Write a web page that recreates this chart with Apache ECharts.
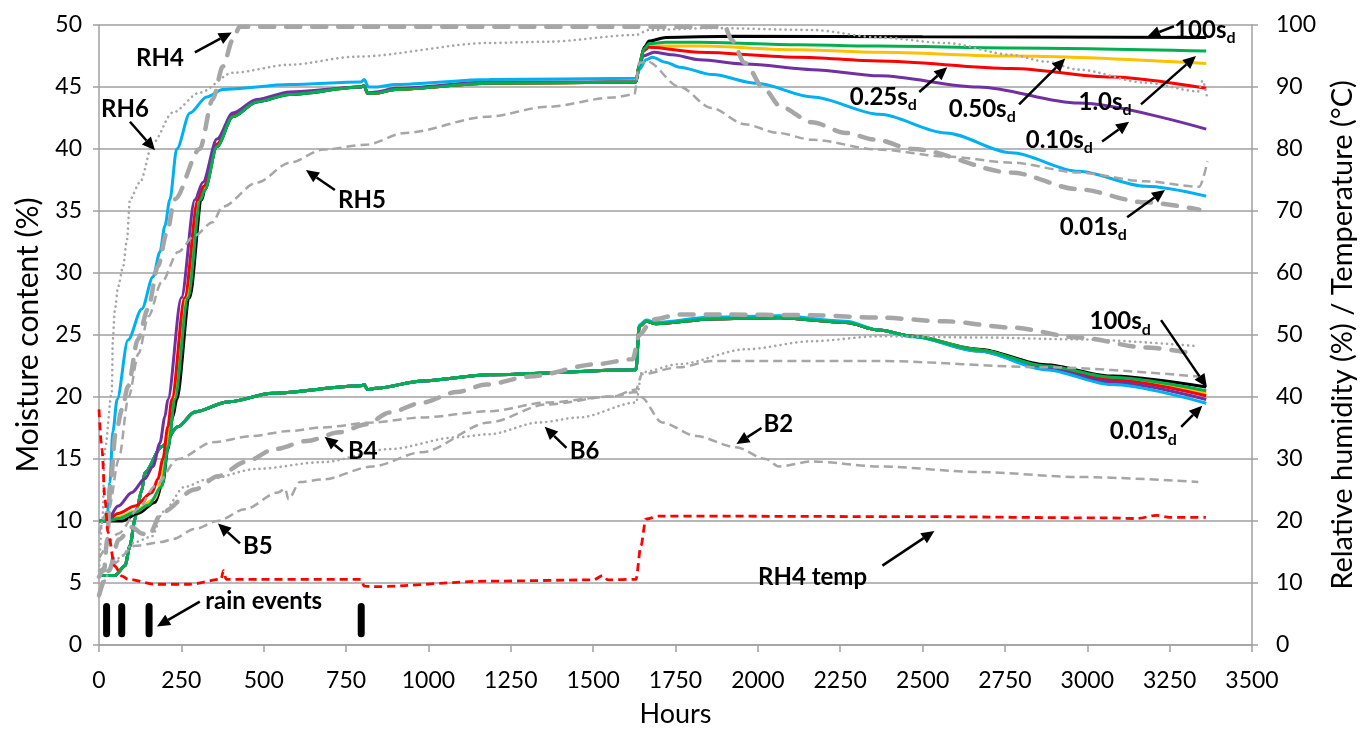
<!DOCTYPE html>
<html>
<head>
<meta charset="utf-8">
<script src="https://cdn.jsdelivr.net/npm/echarts@6/dist/echarts.min.js"></script>
<style>
html,body{margin:0;padding:0;background:#fff;}
#c{width:1365px;height:733px;}
</style>
</head>
<body>
<div id="c"></div>
<script>
// ---------- DATA (hours, value) ----------
// Upper group: simulated moisture content (%) – left axis
const upperBlack = [[0,10],[24,10],[70,10],[118,10.6],[170,11.5],[194,13.1],[209,15.8],[224,18.4],[236,19.8],[275,28],[312,35.9],[321,36.7],[358,40.2],[406,42.6],[479,43.8],[579,44.4],[795,45.0],[805,45.1],[815,44.5],[840,44.5],[900,44.8],[1185,45.3],[1630,45.4],[1640,46.8],[1655,48.2],[1670,48.7],[1721,49.0],[1921,49.1],[2500,49.05],[3361,49.0]];
const upperGreen = [[0,10],[24,10],[60,10.2],[110,10.7],[150,11.3],[191,12.8],[210,16],[230,19.8],[270,28],[308,35.9],[321,36.7],[358,40.2],[406,42.6],[479,43.8],[579,44.4],[795,45.0],[805,45.1],[815,44.5],[840,44.5],[900,44.8],[1185,45.3],[1630,45.4],[1640,46.8],[1655,48.1],[1670,48.5],[1721,48.6],[1821,48.6],[2124,48.4],[2367,48.3],[2770,48.15],[3361,47.9]];
const upperOrange = [[0,10],[24,10],[60,10.3],[109,10.8],[170,11.8],[191,13.4],[206,15.8],[221,18.4],[227,19.8],[265,28],[305,35.9],[321,36.9],[358,40.3],[406,42.7],[479,43.9],[579,44.5],[795,45.0],[805,45.1],[815,44.5],[840,44.5],[900,44.8],[1185,45.3],[1630,45.4],[1640,46.8],[1655,48.0],[1670,48.3],[1821,48.3],[2124,48.0],[2367,47.8],[2770,47.5],[3361,46.9]];
const upperRed = [[0,10],[24,10],[58,10.6],[109,11.2],[161,12.3],[179,13.4],[194,15.0],[209,17.6],[221,19.8],[260,28],[300,35.9],[318,37],[358,40.4],[406,42.7],[479,43.9],[579,44.5],[795,45.0],[805,45.1],[815,44.5],[840,44.5],[900,44.8],[1185,45.3],[1630,45.4],[1640,46.8],[1652,47.9],[1670,48.2],[1821,47.8],[2124,47.4],[2367,47.1],[2770,46.5],[3073,45.8],[3361,44.9]];
const upperPurple = [[0,10],[24,10],[58,11.2],[100,12.3],[139,13.4],[164,14.4],[185,16.3],[200,18.4],[209,19.8],[250,28],[291,35.9],[315,37.3],[358,40.8],[406,42.9],[479,44.0],[579,44.6],[795,45.0],[805,45.1],[815,44.5],[840,44.6],[900,44.9],[1185,45.4],[1630,45.4],[1640,46.6],[1652,47.5],[1685,47.8],[1740,47.6],[1823,47.2],[1965,46.85],[2166,46.4],[2369,45.9],[2670,45.0],[2973,43.7],[3361,41.6]];
const upperBlue = [[0,10],[24,10],[33,13.1],[42,17.2],[55,19.8],[88,24.6],[130,27.1],[164,29.7],[185,31.7],[200,33.8],[215,35.9],[236,40.0],[276,42.9],[327,44.2],[376,44.8],[579,45.2],[795,45.4],[805,45.6],[818,45.0],[840,45.0],[900,45.2],[1185,45.6],[1630,45.7],[1640,46.4],[1661,47.2],[1680,47.4],[1720,47.0],[1762,46.6],[1862,46.0],[1996,45.3],[2166,44.2],[2369,42.8],[2570,41.3],[2770,39.7],[2973,38.2],[3176,37.0],[3361,36.2]];

// Lower group: common early part, then one tail per case
const lowerEarly = [[0,5.6],[48,5.6],[79,6.4],[94,8.0],[109,10.1],[115,11],[130,12.5],[139,13.9],[191,16.0],[239,17.6],[291,18.8],[391,19.6],[527,20.3],[795,20.9],[805,21.0],[815,20.6],[840,20.7],[983,21.3],[1185,21.8],[1630,22.2]];
const lowerGreenTail  = [[1640,25.7],[1661,26.1],[1691,25.9],[1861,26.3],[2064,26.4],[2267,26.0],[2367,25.4],[2470,24.9],[2670,23.8],[2873,22.5],[3073,21.6],[3361,20.5]];
const lowerBlueTail   = [[1640,25.8],[1661,26.2],[1691,26.0],[1861,26.45],[2064,26.55],[2267,26.1],[2367,25.4],[2470,24.85],[2670,23.7],[2873,22.2],[3073,21.0],[3361,19.5]];
const lowerBlackTail  = [[1640,25.7],[1661,26.1],[1691,25.9],[1861,26.3],[2064,26.4],[2267,26.0],[2367,25.4],[2470,24.9],[2670,23.85],[2873,22.6],[3073,21.7],[3361,20.8]];
const lowerOrangeTail = [[1640,25.7],[1661,26.1],[1691,25.9],[1861,26.3],[2064,26.4],[2267,26.0],[2367,25.4],[2470,24.9],[2670,23.8],[2873,22.45],[3073,21.5],[3361,20.3]];
const lowerRedTail    = [[1640,25.7],[1661,26.1],[1691,25.9],[1861,26.3],[2064,26.4],[2267,26.0],[2367,25.4],[2470,24.9],[2670,23.75],[2873,22.4],[3073,21.4],[3361,20.1]];
const lowerPurpleTail = [[1640,25.7],[1661,26.1],[1691,25.9],[1861,26.3],[2064,26.4],[2267,26.0],[2367,25.4],[2470,24.9],[2670,23.7],[2873,22.3],[3073,21.2],[3361,19.8]];

// Measured relative humidity (%) / temperature (°C) – right axis
const RH4 = [[0,11],[15,12],[25,17],[35,26],[50,34],[70,38],[88,41.7],[118,49.3],[148,54.1],[179,61.1],[206,66.5],[230,71.9],[306,80],[345,88],[376,93.3],[406,97.6],[427,99.7],[1900,99.7],[1920,97.6],[1960,93.9],[2020,89.6],[2070,86.8],[2164,84.3],[2267,82.6],[2358,81.5],[2470,80],[2770,76.2],[2973,73.5],[3176,71.4],[3340,70.2]];
const RH6 = [[0,12],[10,20],[18,31.6],[39,40.8],[42,49.3],[48,54],[58,57.8],[73,61],[85,65.4],[94,71.9],[124,74.6],[164,81],[224,85.9],[306,89.1],[406,92.3],[579,93.6],[782,94.9],[1185,97.1],[1358,97.3],[1630,98.4],[1670,99.2],[1861,99.5],[2164,99.2],[2367,98],[2570,97.1],[2770,95.2],[2873,94.1],[2973,92.8],[3176,90.7],[3337,89.3],[3350,91],[3365,88]];
const RH5 = [[0,18],[30,22],[60,30],[90,40],[120,47],[150,53],[190,58.5],[240,63.4],[290,66],[345,68.2],[375,70.7],[480,74.6],[580,77.8],[680,79.9],[810,80.7],[930,82.6],[1180,85.2],[1360,86.8],[1560,88.3],[1625,88.8],[1640,93.9],[1665,94.1],[1760,90.1],[1860,86.6],[1960,84.0],[2060,82.6],[2164,81.5],[2367,79.9],[2570,78.8],[2770,77.8],[2973,76.2],[3176,74.8],[3340,73.9],[3365,78]];
const B4 = [[0,8],[30,12],[60,17],[100,19],[130,18],[150,17.6],[191,21.4],[291,25.1],[361,27.2],[443,29.5],[534,31.6],[631,32.9],[730,34.3],[812,35.6],[882,37.5],[982,39.1],[1085,40.8],[1176,42],[1307,43.3],[1510,45.3],[1620,46.1],[1640,50],[1680,52.5],[1762,53.3],[1883,53.3],[2164,53.2],[2367,52.8],[2570,52.2],[2770,51.2],[2973,49.6],[3176,48],[3300,47.2]];
const B5 = [[0,12],[40,13],[110,16],[190,16.6],[225,17.1],[290,18.7],[360,20],[443,21.9],[543,24.6],[565,25.2],[575,23.5],[610,26.3],[680,26.7],[830,28.8],[980,31.1],[1185,35.9],[1358,38.8],[1560,40.1],[1630,41.2],[1648,43.7],[1761,44.8],[1861,45.8],[2367,45.8],[2873,44.8],[3337,43.3]];
const B2 = [[0,14],[60,18],[120,22],[170,25.6],[240,30],[345,32.7],[465,33.7],[575,34.5],[680,35.1],[830,35.9],[980,36.7],[1185,37.7],[1358,39.1],[1558,40.1],[1630,40.8],[1645,40],[1709,35.9],[1812,33.7],[1933,31.9],[2024,30],[2064,28.8],[2164,29.6],[2367,28.8],[2670,27.9],[2973,27.1],[3337,26.3]];
const B6 = [[0,8],[60,14],[110,16.6],[160,17.5],[195,21.5],[260,25.5],[327,26.7],[479,28.4],[679,29.5],[882,31.6],[1085,33.5],[1185,34],[1336,35.9],[1458,36.7],[1630,39.1],[1648,44],[1761,45.3],[1964,47.7],[2164,49],[2367,49.8],[2670,49.6],[2973,49.3],[3337,48.2]];
const RH4temp = [[0,38],[9,31.6],[18,23.5],[27,18.2],[48,12.7],[70,11.1],[88,10.6],[170,9.8],[275,9.8],[370,10.6],[378,12],[386,10.6],[780,10.6],[795,10.6],[805,9.5],[830,9.4],[1185,10.3],[1500,10.5],[1530,11.2],[1545,10.5],[1630,10.6],[1645,16],[1660,20.3],[1700,20.8],[2500,20.7],[3050,20.5],[3150,20.4],[3210,20.9],[3250,20.6],[3360,20.6]];

// Rain events (hours) drawn as short bars on the left axis
const rainHours = [23, 69, 152, 796];
const rainRange = [0.9, 3.1];

// Tick settings
const xTicks = {min:0, max:3500, interval:250};
const yLeft  = {min:0, max:50, interval:5};
const yRight = {min:0, max:100, interval:10};

// Annotations (data coordinates on left axis): text, subscript, text centre, arrow tail, arrow tip
const annotations = [
  {t:'RH4', s:'', at:[185,47.3], from:[291,47.8], to:[403,49.4]},
  {t:'RH6', s:'', at:[79,43.2], from:[94,42.2], to:[170,39.9]},
  {t:'RH5', s:'', at:[798,35.9], from:[716,36.7], to:[628,38.3]},
  {t:'0.25s', s:'d', at:[2381,44.2], from:[2490,44.6], to:[2575,46.6]},
  {t:'0.50s', s:'d', at:[2681,43.2], from:[2793,43.6], to:[2933,47.3]},
  {t:'1.0s', s:'d', at:[3054,43.8], from:[3163,43.6], to:[3330,47.5]},
  {t:'0.10s', s:'d', at:[2915,40.7], from:[3045,40.6], to:[3127,42.2]},
  {t:'0.01s', s:'d', at:[3018,33.7], from:[3121,34.5], to:[3236,36.7]},
  {t:'100s', s:'d', at:[3357,49.6], from:[3263,49.9], to:[3182,49.05]},
  {t:'100s', s:'d', at:[3100,26.1], from:[3224,26.2], to:[3363,20.8]},
  {t:'0.01s', s:'d', at:[3170,17.2], from:[3285,17.6], to:[3349,19.3]},
  {t:'B4', s:'', at:[801,15.6], from:[740,15.6], to:[685,16.8]},
  {t:'B6', s:'', at:[1474,15.6], from:[1419,15.9], to:[1353,17.6]},
  {t:'B2', s:'', at:[2062,17.8], from:[2011,17.5], to:[1935,16.2]},
  {t:'B5', s:'', at:[482,8.0], from:[428,8.2], to:[361,9.8]},
  {t:'rain events', s:'', at:[500,3.5], from:[306,3.5], to:[176,1.5]},
  {t:'RH4 temp', s:'', at:[2166,5.5], from:[2378,6.4], to:[2536,9.2]}
];

// ---------- STYLE ----------
const FONT = 'Lato, "Open Sans", sans-serif';
const GRAY = '#a6a6a6';
const AXIS = '#a0a0a0';
const C = {black:'#000000', green:'#00b050', orange:'#ffc000', red:'#ff0000', purple:'#7030a0', blue:'#00b0f0'};

function simLine(name, data, color, z){
  return {name, type:'line', data, yAxisIndex:0, showSymbol:false, smooth:0.3, smoothMonotone:'x',
    lineStyle:{color, width:3}, z, silent:true};
}
function grayLine(name, data, kind, z){
  let ls;
  if(kind==='thick') ls = {color:GRAY, width:4.5, type:[14,12], cap:'round'};
  else if(kind==='dash') ls = {color:GRAY, width:2.5, type:[9,5]};
  else ls = {color:GRAY, width:2.6, type:[0.1,5.2], cap:'round'};
  return {name, type:'line', data, yAxisIndex:1, showSymbol:false, smooth:0.3, smoothMonotone:'x', lineStyle:ls, z, silent:true};
}

const rainData = [];
rainHours.forEach(h => { rainData.push([h, rainRange[0]], [h, rainRange[1]], [h, '-']); });

const series = [
  simLine('low100', lowerEarly.concat(lowerBlackTail), C.black, 3),
  simLine('low050', lowerEarly.concat(lowerOrangeTail), C.orange, 3),
  simLine('low025', lowerEarly.concat(lowerRedTail), C.red, 3),
  simLine('low010', lowerEarly.concat(lowerPurpleTail), C.purple, 3),
  simLine('low001', lowerEarly.concat(lowerBlueTail), C.blue, 3),
  simLine('low1', lowerEarly.concat(lowerGreenTail), C.green, 3),
  simLine('up100', upperBlack, C.black, 3),
  simLine('up050', upperOrange, C.orange, 3),
  simLine('up025', upperRed, C.red, 3),
  simLine('up010', upperPurple, C.purple, 3),
  simLine('up001', upperBlue, C.blue, 3),
  simLine('up1', upperGreen, C.green, 3),
  grayLine('RH4', RH4, 'thick', 4),
  grayLine('B4', B4, 'thick', 4),
  grayLine('RH5', RH5, 'dash', 4),
  grayLine('B5', B5, 'dash', 4),
  grayLine('B2', B2, 'dash', 4),
  grayLine('RH6', RH6, 'dot', 4),
  grayLine('B6', B6, 'dot', 4),
  {name:'RH4 temp', type:'line', data:RH4temp, yAxisIndex:1, showSymbol:false, smooth:0.3, smoothMonotone:'x',
    lineStyle:{color:'#ff0000', width:2.8, type:[8,5]}, z:5, silent:true},
  {name:'rain', type:'line', data:rainData, yAxisIndex:0, showSymbol:false, connectNulls:false,
    lineStyle:{color:'#000', width:7, cap:'round'}, z:5, silent:true}
];

const axisNameStyle = {fontSize:27, color:'#000', fontFamily:FONT};
const axisLabelStyle = {fontSize:23, color:'#000', fontFamily:FONT, formatter: v => String(v)};

const option = {
  animation:false,
  backgroundColor:'#fff',
  textStyle:{fontFamily:FONT},
  grid:{left:99, right:112, top:25, bottom:87},
  xAxis:{type:'value', min:xTicks.min, max:xTicks.max, interval:xTicks.interval,
    name:'Hours', nameLocation:'middle', nameGap:56, nameTextStyle:axisNameStyle,
    axisLine:{show:true, lineStyle:{color:AXIS, width:1.5}},
    axisTick:{show:true, inside:false, length:7, lineStyle:{color:AXIS, width:1.5}},
    axisLabel:{...axisLabelStyle, margin:24},
    splitLine:{show:false}},
  yAxis:[
    {type:'value', min:yLeft.min, max:yLeft.max, interval:yLeft.interval, position:'left',
      name:'Moisture content (%)', nameLocation:'middle', nameRotate:90, nameGap:56, nameTextStyle:{...axisNameStyle, fontSize:30},
      axisLine:{show:true, lineStyle:{color:AXIS, width:1.5}},
      axisTick:{show:true, inside:false, length:6, lineStyle:{color:AXIS, width:1.5}},
      axisLabel:{...axisLabelStyle, margin:17},
      splitLine:{show:true, lineStyle:{color:AXIS, width:1.5}}},
    {type:'value', min:yRight.min, max:yRight.max, interval:yRight.interval, position:'right',
      name:'Relative humidity (%) / Temperature (°C)', nameLocation:'middle', nameRotate:90, nameGap:76, nameTextStyle:{...axisNameStyle, fontSize:29},
      axisLine:{show:true, lineStyle:{color:AXIS, width:1.5}},
      axisTick:{show:true, inside:false, length:6, lineStyle:{color:AXIS, width:1.5}},
      axisLabel:{...axisLabelStyle, margin:24},
      splitLine:{show:false}}
  ],
  series
};

const chart = echarts.init(document.getElementById('c'), null, {renderer:'canvas'});
chart.setOption(option);

// Annotations placed via the chart's own coordinate conversion
function px(p){ return chart.convertToPixel({xAxisIndex:0, yAxisIndex:0}, p); }
const graphics = [];
const rich = {
  b:{fontSize:24, fontWeight:'bold', fontFamily:FONT, fill:'#000', lineHeight:32, verticalAlign:'middle'},
  s:{fontSize:16, fontWeight:'bold', fontFamily:FONT, fill:'#000', lineHeight:16, verticalAlign:'bottom'}
};
annotations.forEach(a => {
  const c = px(a.at), p1 = px(a.from), p2 = px(a.to);
  graphics.push({type:'text', x:c[0], y:c[1], z:100,
    style:{text: a.s ? '{b|'+a.t+'}{s|'+a.s+'}' : '{b|'+a.t+'}', rich, align:'center', verticalAlign:'middle'}});
  const dx = p2[0]-p1[0], dy = p2[1]-p1[1], L = Math.sqrt(dx*dx+dy*dy);
  const ux = dx/L, uy = dy/L, hl = 13, hw = 6;
  const bx = p2[0]-ux*hl, by = p2[1]-uy*hl;
  graphics.push({type:'line', z:100, shape:{x1:p1[0], y1:p1[1], x2:bx, y2:by}, style:{stroke:'#000', lineWidth:2.5}});
  graphics.push({type:'polygon', z:100, shape:{points:[[p2[0],p2[1]],[bx-uy*hw, by+ux*hw],[bx+uy*hw, by-ux*hw]]}, style:{fill:'#000'}});
});
chart.setOption({graphic:graphics});
</script>
